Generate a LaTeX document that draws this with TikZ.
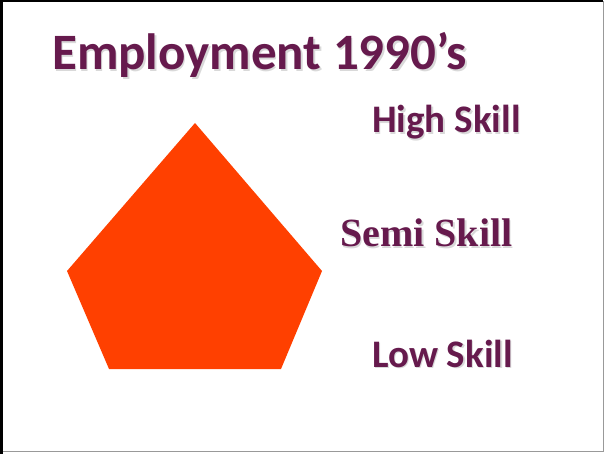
\documentclass[tikz,border=0pt]{standalone}
\usepackage{fontspec}
\setmainfont{Carlito}
\newfontfamily\timesfont{Liberation Serif}
\usepackage{xcolor}
\usepackage{tikz}

\definecolor{plum}{RGB}{102,26,77}
\definecolor{flame}{RGB}{255,64,0}

% text with a soft grey copy a little below and to the right
\newcommand{\dropshadow}[1]{\makebox[0pt][l]{\hspace{1.5bp}\raisebox{-1.5bp}{\textcolor{black!15}{#1}}}#1}

\tikzset{
    label/.style={anchor=base west, inner sep=0pt, text=plum, font=\bfseries\fontsize{39bp}{44bp}\selectfont}
}

\begin{document}
\begin{tikzpicture}[x=1bp, y=-1bp]
        \useasboundingbox (0,0) rectangle (605,454);

        % frame
        \draw[line width=3bp] (1.5,454) -- (1.5,1) -- (603,1);
        \draw[black!40, line width=1.5bp] (603.5,1) -- (603.5,451.5) -- (3,451.5);

        % heading
        \node[label, font=\bfseries\fontsize{51bp}{60bp}\selectfont] (title) at (52,70) {\dropshadow{Employment 1990's}};

        % pentagon
        \fill[flame] (195,123) -- (322,271) -- (281,369) -- (109,369) -- (67,271) -- cycle;

        % levels
        \node[label] (high) at (372,133) {\dropshadow{High Skill}};
        \node[label, font=\timesfont\bfseries\fontsize{40bp}{44bp}\selectfont] (semi) at (340,247) {\dropshadow{Semi Skill}};
        \node[label] (low) at (372,367) {\dropshadow{Low Skill}};
    \end{tikzpicture}
\end{document}
